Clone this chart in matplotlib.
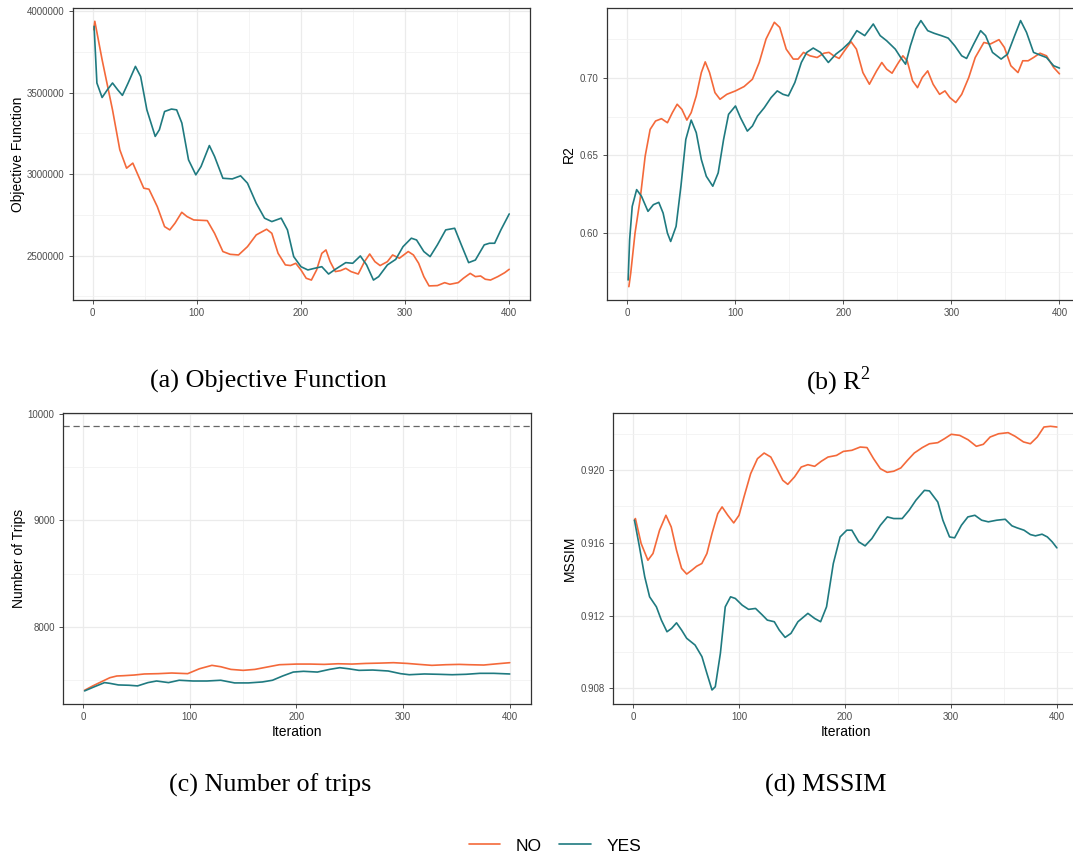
import matplotlib
matplotlib.use("Agg")
from matplotlib import pyplot as plt
from matplotlib.ticker import MultipleLocator

ORANGE = "#F4693A"
TEAL = "#1F7A80"

# (a) objective function
obj_no_x = [1, 2, 9, 19, 26, 32.5, 38.5, 49, 54, 62, 69, 74, 79, 85.5, 90.5, 97, 110, 117, 125, 132,
            140, 148.6, 157, 167, 172, 178, 185, 190, 195, 200, 205, 210, 215, 220, 224, 228, 233, 238,
            243, 248, 255, 261, 266, 271, 276, 283, 288, 294.5, 303, 308, 313, 318, 323, 331, 338, 343,
            351, 356, 362.5, 367.5, 372.5, 377, 382, 389, 395.6, 400]
obj_no_y = [3887, 3939, 3703, 3395, 3150, 3037, 3068, 2914, 2908, 2801, 2678, 2658, 2699, 2766, 2740,
            2719, 2715, 2637, 2525, 2508, 2504, 2555, 2627, 2662, 2637, 2514, 2443, 2439, 2453, 2412,
            2361, 2350, 2412, 2514, 2535, 2463, 2402, 2408, 2422, 2402, 2387, 2463, 2510, 2463, 2439,
            2463, 2504, 2484, 2525, 2504, 2453, 2371, 2314, 2316, 2334, 2324, 2334, 2361, 2391, 2371,
            2375, 2355, 2350, 2371, 2395, 2416]
obj_yes_x = [1.3, 4, 9, 14, 19, 24, 28.5, 34, 41, 46, 52, 60, 64, 69, 75.6, 80.6, 85.6, 92, 99, 104,
             112, 117, 125, 134, 142, 148.6, 157, 165, 172, 181, 187, 193, 200, 206.6, 213, 220, 226.5,
             233, 243, 249.7, 257, 263, 269.6, 274.6, 283, 291, 298, 306, 311, 318, 324, 331, 339,
             347.6, 354, 361, 367.5, 376, 381, 386, 392, 400]
obj_yes_y = [3908, 3560, 3471, 3518, 3560, 3518, 3484, 3560, 3662, 3600, 3395, 3232, 3273, 3385, 3400,
             3395, 3314, 3088, 2996, 3047, 3176, 3109, 2975, 2971, 2990, 2945, 2822, 2730, 2709, 2730,
             2658, 2494, 2432, 2412, 2422, 2432, 2387, 2416, 2457, 2453, 2498, 2443, 2350, 2371, 2443,
             2477, 2555, 2607, 2596, 2525, 2494, 2566, 2658, 2668, 2566, 2457, 2473, 2566, 2576, 2576,
             2658, 2756]

# (b) R2
r2_no_x = [1.3, 3, 7, 11.7, 16.4, 21, 26, 31.5, 37, 41.6, 46, 50.4, 55, 59, 63.7, 68.4, 72, 76, 81,
           85.7, 92, 100, 108, 115.7, 122, 128.3, 136, 141, 147, 153.5, 158, 163, 169, 175.6, 182,
           186.6, 191, 196, 201, 207, 212, 218, 224, 230.7, 235.5, 240, 245, 250, 255, 259, 264,
           268.6, 273, 278, 283, 289, 294, 298.5, 304, 309.5, 316, 322, 330, 336, 344, 349, 355,
           361.6, 366, 371, 376, 382, 388, 394.6, 400]
r2_no_y = [0.5655, 0.5741, 0.600, 0.6216, 0.6496, 0.6668, 0.6722, 0.6737, 0.6711, 0.6776, 0.6830,
           0.6797, 0.6728, 0.6776, 0.6884, 0.7034, 0.7103, 0.7034, 0.6905, 0.6862, 0.6894, 0.6916,
           0.6944, 0.6991, 0.7099, 0.7250, 0.7358, 0.7325, 0.7185, 0.7121, 0.7121, 0.7164, 0.7142,
           0.7131, 0.7159, 0.7164, 0.7142, 0.7125, 0.7175, 0.7233, 0.7185, 0.7034, 0.6959, 0.7045,
           0.7099, 0.7056, 0.7030, 0.7088, 0.7142, 0.7110, 0.6981, 0.6937, 0.7002, 0.7045, 0.6959,
           0.6894, 0.6916, 0.6873, 0.6841, 0.6894, 0.7002, 0.7131, 0.7228, 0.7218, 0.7246, 0.7196,
           0.7078, 0.7034, 0.7110, 0.7110, 0.7131, 0.7159, 0.7142, 0.7067, 0.7026]
r2_yes_x = [0.6, 2, 4.4, 8.5, 13, 19, 24, 29, 33, 37, 40, 45, 49.5, 54, 59, 63.7, 68.4, 73, 79, 84,
            89, 93.6, 100, 104.6, 111, 115.7, 120.4, 126.7, 133, 138.7, 144, 149, 155, 161, 166, 172,
            178.7, 186, 193, 199, 205.5, 212.4, 219.7, 227.6, 234, 240, 248, 253, 257.5, 262, 267,
            271.7, 278, 284, 290.6, 297, 303, 309.5, 314, 320.6, 327, 331.6, 338, 346, 352, 358.5,
            364, 369.5, 376, 382, 388, 394.6, 400]
r2_yes_y = [0.5698, 0.5957, 0.6172, 0.6280, 0.6237, 0.6140, 0.6183, 0.6198, 0.6129, 0.6000, 0.5946,
            0.6043, 0.6302, 0.6603, 0.6728, 0.6647, 0.6474, 0.6366, 0.6302, 0.6388, 0.6603, 0.6765,
            0.6819, 0.6744, 0.6657, 0.6690, 0.6754, 0.6808, 0.6873, 0.6916, 0.6894, 0.6884, 0.6970,
            0.7099, 0.7164, 0.7192, 0.7164, 0.7099, 0.7153, 0.7185, 0.7228, 0.7304, 0.7272, 0.7347,
            0.7272, 0.7239, 0.7185, 0.7131, 0.7088, 0.7207, 0.7315, 0.7369, 0.7304, 0.7287, 0.7272,
            0.7256, 0.7207, 0.7142, 0.7125, 0.7218, 0.7304, 0.7272, 0.7164, 0.7121, 0.7153, 0.7272,
            0.7369, 0.7293, 0.7164, 0.7147, 0.7131, 0.7078, 0.7063]

# (c) number of trips
trips_no_x = [1.3, 9, 18.5, 25, 31.5, 38, 47.7, 57.4, 70.4, 83, 98, 109, 120.7, 129, 138.5, 150, 161,
              174, 184, 200, 213, 226, 239, 252, 265, 278, 291, 304, 315, 327, 340, 352.6, 362,
              375.6, 388.6, 400]
trips_no_y = [7405, 7446, 7492, 7523, 7539, 7542, 7548, 7558, 7561, 7567, 7561, 7607, 7639, 7626, 7601,
              7592, 7601, 7626, 7645, 7651, 7651, 7648, 7654, 7651, 7657, 7660, 7664, 7657, 7648, 7639,
              7645, 7648, 7645, 7642, 7654, 7664]
trips_yes_x = [1.3, 10, 20, 25, 33, 43, 51, 60.7, 68.8, 80, 90, 103, 116, 129, 142, 155, 168, 177.5,
               187, 197, 206.6, 219.6, 231, 240.6, 248.8, 258.6, 271.5, 286, 297.6, 305.8, 320, 333,
               346, 359, 372, 385, 400]
trips_yes_y = [7399, 7436, 7477, 7470, 7455, 7452, 7446, 7477, 7492, 7477, 7499, 7492, 7492, 7499, 7474,
               7474, 7483, 7499, 7539, 7576, 7583, 7576, 7601, 7617, 7607, 7592, 7595, 7586, 7561, 7551,
               7558, 7555, 7551, 7555, 7564, 7564, 7558]
trips_limit = 9885

# (d) MSSIM
ms_no_x = [1.3, 2.2, 7.6, 14, 18.8, 25, 31, 36, 41, 45.8, 50.6, 55.4, 60, 64.9, 69.7, 74.5, 79.9, 84,
           89.4, 95, 100, 104.7, 111, 117.4, 123.7, 130, 136.5, 141.3, 146, 152.4, 158.7, 165, 171.4,
           177.7, 184, 192, 198.5, 206.5, 214.4, 220.8, 227, 233.4, 239.8, 246, 252.7, 259, 265.4,
           273, 279.7, 287.6, 294, 300.3, 308.3, 316.2, 324, 330.6, 337, 345, 354, 360.6, 368.5, 375,
           381.5, 387.8, 394, 400]
ms_no_y = [0.91724, 0.91733, 0.91596, 0.91504, 0.91541, 0.91669, 0.91751, 0.91687, 0.91559, 0.91459,
           0.91428, 0.91449, 0.91471, 0.91486, 0.91541, 0.91651, 0.91760, 0.91797, 0.91751, 0.91709,
           0.91751, 0.91852, 0.91980, 0.92062, 0.92093, 0.92071, 0.91998, 0.91943, 0.91921, 0.91962,
           0.92016, 0.92029, 0.92020, 0.92048, 0.92071, 0.92080, 0.92102, 0.92108, 0.92126, 0.92123,
           0.92062, 0.92007, 0.91987, 0.91993, 0.92011, 0.92053, 0.92093, 0.92123, 0.92144, 0.92150,
           0.92172, 0.92196, 0.92190, 0.92166, 0.92130, 0.92141, 0.92181, 0.92199, 0.92205, 0.92185,
           0.92154, 0.92144, 0.92181, 0.92236, 0.92240, 0.92236]
ms_yes_x = [1.3, 6, 11, 15.6, 22, 26.7, 32, 36.3, 41, 45.8, 50.6, 58.5, 65, 69.7, 74.5, 77.6, 82.4, 87,
            92, 96.5, 103, 109, 115.6, 122, 126.7, 133.3, 138, 143.5, 149, 155.6, 165, 171.4, 177,
            182.6, 189, 195.4, 201.7, 206.5, 213, 219, 225.4, 233.4, 240, 246, 254, 260.6, 267, 275,
            279.7, 287.6, 292.4, 298.7, 303.5, 309.9, 316, 322.6, 329, 335.3, 343.3, 351.3, 357.6,
            362.4, 369, 375, 379.8, 386, 391, 395.6, 400]
ms_yes_y = [0.91724, 0.91578, 0.91413, 0.91303, 0.91248, 0.91175, 0.91111, 0.91129, 0.91160, 0.91120,
            0.91075, 0.91038, 0.90974, 0.90882, 0.90791, 0.90809, 0.90992, 0.91248, 0.91303, 0.91294,
            0.91257, 0.91234, 0.91239, 0.91203, 0.91175, 0.91166, 0.91120, 0.91080, 0.91102, 0.91166,
            0.91212, 0.91184, 0.91166, 0.91248, 0.91486, 0.91632, 0.91669, 0.91669, 0.91605, 0.91583,
            0.91623, 0.91696, 0.91742, 0.91733, 0.91733, 0.91779, 0.91834, 0.91888, 0.91885, 0.91824,
            0.91724, 0.91632, 0.91627, 0.91696, 0.91742, 0.91751, 0.91724, 0.91715, 0.91724, 0.91729,
            0.91693, 0.91682, 0.91669, 0.91645, 0.91638, 0.91647, 0.91632, 0.91605, 0.91572]

plt.rcParams['font.family'] = ['Liberation Sans', 'DejaVu Sans']
plt.rcParams['mathtext.fontset'] = 'custom'
plt.rcParams['mathtext.rm'] = 'Liberation Serif'
plt.rcParams['lines.solid_joinstyle'] = 'round'
plt.rcParams['lines.solid_capstyle'] = 'round'

W, H = 1073, 857
fig = plt.figure(figsize=(W / 100, H / 100), dpi=100)


def box(l, r, t, b):
    return [l / W, 1 - b / H, (r - l) / W, (b - t) / H]


def style(ax, ylim, ymaj, ylabel, ylab_x, xlabel=None, fmt=None):
    ax.set_xlim(-18.95, 419.95)
    ax.set_ylim(*ylim)
    ax.xaxis.set_major_locator(MultipleLocator(100))
    ax.xaxis.set_minor_locator(MultipleLocator(50))
    ax.yaxis.set_major_locator(MultipleLocator(ymaj))
    ax.yaxis.set_minor_locator(MultipleLocator(ymaj / 2))
    ax.grid(which='major', color='#EBEBEB', lw=0.9)
    ax.grid(which='minor', color='#F2F2F2', lw=0.6)
    ax.set_axisbelow(True)
    ax.tick_params(which='major', length=3, width=0.6, color='#333333',
                   labelsize=7, labelcolor='#4D4D4D', pad=3)
    ax.tick_params(which='minor', length=0)
    for s in ax.spines.values():
        s.set_color('#333333')
        s.set_linewidth(0.9)
    if fmt:
        ax.yaxis.set_major_formatter(fmt)
    ax.set_ylabel(ylabel, fontsize=10)
    ax.yaxis.set_label_coords(ylab_x, 0.5)
    if xlabel:
        ax.set_xlabel(xlabel, fontsize=10, labelpad=2)


ax1 = fig.add_axes(box(73, 530, 8, 300))
ax1.plot(obj_no_x, [v * 1000 for v in obj_no_y], color=ORANGE, lw=1.2)
ax1.plot(obj_yes_x, [v * 1000 for v in obj_yes_y], color=TEAL, lw=1.2)
style(ax1, (2227500, 4020500), 500000, 'Objective Function', -0.105,
      fmt=matplotlib.ticker.FuncFormatter(lambda v, p: '%d' % v))

ax2 = fig.add_axes(box(607, 1081, 8, 300))
ax2.plot(r2_no_x, r2_no_y, color=ORANGE, lw=1.2)
ax2.plot(r2_yes_x, r2_yes_y, color=TEAL, lw=1.2)
style(ax2, (0.5569, 0.7450), 0.05, 'R2', -0.066,
      fmt=matplotlib.ticker.FormatStrFormatter('%.2f'))

ax3 = fig.add_axes(box(63, 531, 413, 704))
ax3.axhline(trips_limit, color='#666666', lw=0.9, ls=(0, (5, 3)))
ax3.plot(trips_no_x, trips_no_y, color=ORANGE, lw=1.2)
ax3.plot(trips_yes_x, trips_yes_y, color=TEAL, lw=1.2)
style(ax3, (7276, 10009), 1000, 'Number of Trips', -0.08, xlabel='Iteration')

ax4 = fig.add_axes(box(613, 1078, 413, 704))
l1, = ax4.plot(ms_no_x, ms_no_y, color=ORANGE, lw=1.2)
l2, = ax4.plot(ms_yes_x, ms_yes_y, color=TEAL, lw=1.2)
style(ax4, (0.90714, 0.92313), 0.004, 'MSSIM', -0.078, xlabel='Iteration',
      fmt=matplotlib.ticker.FormatStrFormatter('%.3f'))

cap = dict(family='Liberation Serif', fontsize=18.8, ha='center', va='center')
fig.text(268 / W, 1 - 381 / H, '(a) Objective Function', **cap)
fig.text(838 / W, 1 - 381 / H, r'(b) $\mathrm{R}^{2}$', **cap)
fig.text(270 / W, 1 - 785 / H, '(c) Number of trips', **cap)
fig.text(826 / W, 1 - 785 / H, '(d) MSSIM', **cap)

fig.legend([l1, l2], ['NO', 'YES'], loc='center', bbox_to_anchor=(555 / W, 1 - 846 / H),
           ncol=2, frameon=False, fontsize=12.5, handlelength=1.8, handletextpad=0.9,
           columnspacing=1.0)

fig.savefig('out.png', dpi=100)
